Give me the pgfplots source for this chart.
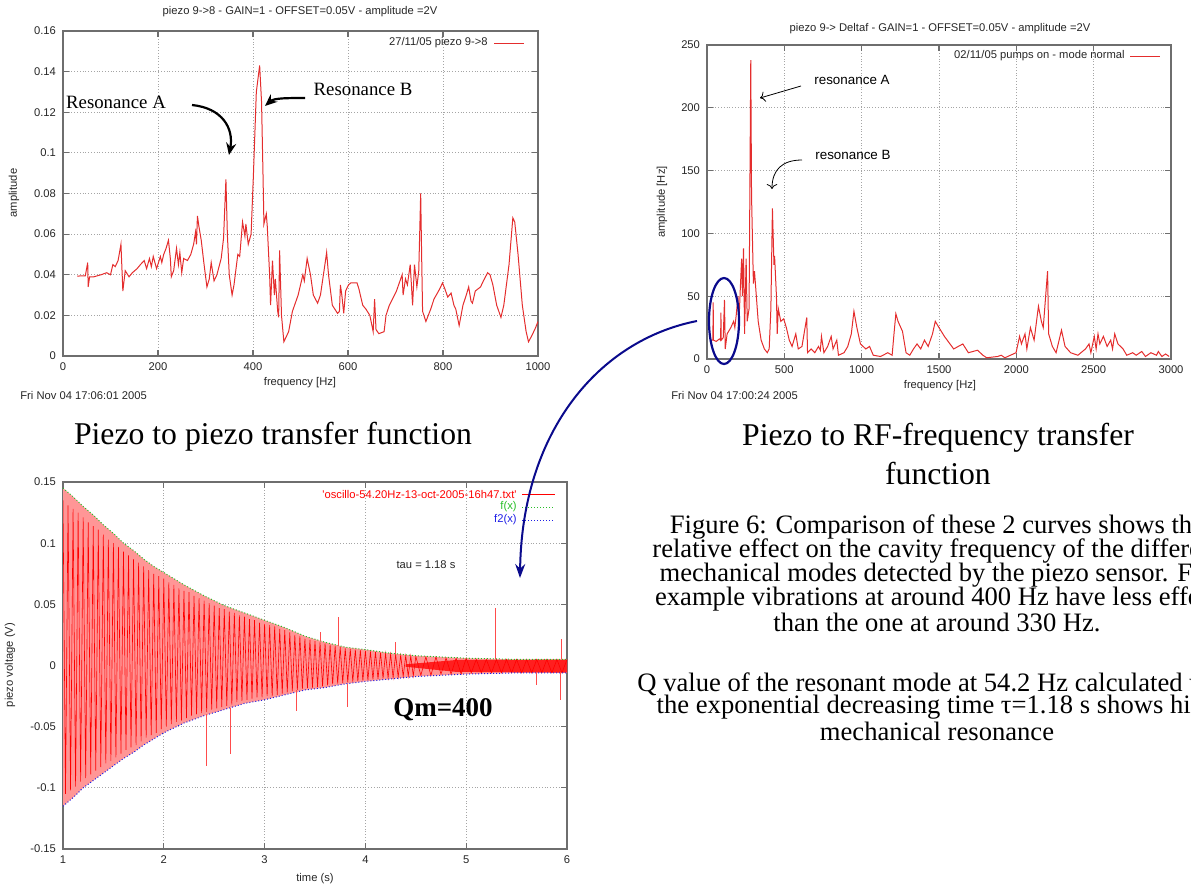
\documentclass[border=0pt]{standalone}
\usepackage{pgfplots}
\pgfplotsset{compat=1.18}
\usepackage{fontspec}
\setmainfont{Liberation Serif}
\newfontfamily\gpfamily{Liberation Sans}
\usetikzlibrary{arrows.meta}
\definecolor{gpred}{RGB}{228,45,45}
\definecolor{gpframe}{RGB}{110,110,110}
\definecolor{gpgrid}{RGB}{165,165,165}
\definecolor{navyarrow}{RGB}{10,10,140}
\definecolor{bandred}{RGB}{255,150,150}
\definecolor{gpgreen}{RGB}{40,190,40}
\definecolor{gpblue}{RGB}{30,30,230}
\newcommand\gpfont{\gpfamily\fontsize{5.6}{6.6}\selectfont}
\newcommand\capfont{\fontsize{15.85}{17.5}\selectfont}
\newcommand\bodyfont{\fontsize{13.3}{12}\selectfont}
\pgfplotsset{gnu/.style={
  scale only axis,
  axis line style={gpframe, line width=0.8pt},
  tick style={gpframe, line width=0.6pt},
  major tick length=3pt,
  grid=major,
  grid style={gpgrid, densely dotted, line width=0.45pt},
  tick label style={font=\gpfont, text=black!85},
  scaled ticks=false,
}}
\begin{document}
\begin{tikzpicture}
\clip (0,0) rectangle (595.5pt,-442.5pt);
% ---------------- plot 1 ----------------
\begin{axis}[gnu, at={(31.5pt,-178pt)}, anchor=south west, width=237.5pt, height=162.5pt,
  xmin=0, xmax=1000, ymin=0, ymax=0.16,
  xtick={0,200,400,600,800,1000}, xticklabels={0,200,400,600,800,1000},
  ytick={0,0.02,0.04,0.06,0.08,0.1,0.12,0.14,0.16},
  yticklabels={0,0.02,0.04,0.06,0.08,0.1,0.12,0.14,0.16}]
\addplot[gpred, line width=0.5pt] coordinates {
(30,.0393)(40,.0395)(47,.0395)(52,.046)(53,.034)(56,.039)(65,.039)(80,.040)(92,.041)(100,.040)
(105,.045)(110,.044)(116,.047)(122,.055)(126,.032)(131,.042)(139,.039)(146,.041)(156,.043)(163,.045)
(171,.047)(176,.043)(182,.048)(186,.044)(190,.049)(197,.043)(205,.049)(208,.046)(212,.050)(217,.053)
(222,.057)(226,.048)(228,.039)(233,.042)(239,.053)(243,.045)(246,.051)(250,.041)(254,.048)(262,.047)
(269,.050)(275,.055)(279,.061)(281,.055)(283,.069)(286,.064)(291,.057)(297,.045)(303,.034)(308,.038)
(312,.046)(318,.037)(324,.040)(333,.048)(338,.058)(343,.087)(346,.060)(350,.040)(356,.030)(360,.035)
(368,.050)(372,.049)(378,.066)(383,.059)(385,.065)(390,.055)(396,.060)(401,.090)(407,.130)(414,.143)
(418,.125)(421,.090)(423,.065)(428,.070)(430,.064)(435,.040)(437,.025)(441,.047)(445,.030)(447,.038)
(452,.022)(454,.019)(456,.052)(460,.020)(465,.007)(475,.012)(483,.022)(495,.030)(505,.040)(508,.037)
(514,.048)(521,.040)(527,.030)(536,.026)(542,.030)(552,.046)(555,.051)(559,.040)(567,.025)(578,.021)
(582,.022)(584,.035)(587,.030)(591,.021)(595,.032)(601,.035)(606,.036)(619,.036)(623,.033)(631,.025)
(638,.023)(646,.020)(653,.012)(656,.028)(659,.013)(665,.011)(676,.012)(680,.020)(687,.025)(702,.032)
(714,.040)(716,.030)(721,.038)(725,.035)(731,.045)(736,.025)(740,.045)(745,.034)(749,.042)(753,.080)
(755,.050)(757,.022)(764,.017)(774,.023)(781,.028)(793,.033)(799,.036)(804,.033)(810,.029)(817,.031)
(823,.025)(827,.023)(834,.015)(842,.025)(849,.030)(854,.034)(859,.027)(862,.026)(868,.032)(879,.034)
(885,.037)(894,.041)(899,.040)(905,.035)(913,.025)(922,.019)(928,.025)(939,.045)(947,.068)(951,.066)
(958,.050)(967,.025)(975,.012)(980,.007)(987,.010)(995,.014)(1000,.017)};
\end{axis}
% ---------------- plot 2 ----------------
\begin{axis}[gnu, at={(353.5pt,-179.5pt)}, anchor=south west, width=232pt, height=157pt,
  xmin=0, xmax=3000, ymin=0, ymax=250,
  xtick={0,500,1000,1500,2000,2500,3000}, xticklabels={0,500,1000,1500,2000,2500,3000},
  ytick={0,50,100,150,200,250}, yticklabels={0,50,100,150,200,250}]
\addplot[gpred, line width=0.5pt] coordinates {
(20,15)(38,15)(40,45)(42,15)(60,14)(80,16)(88,15)(90,37)(92,15)(105,17)(113,47)(118,8)(130,20)
(154,25)(172,30)(180,25)(189,35)(200,50)(207,30)(215,55)(224,80)(229,50)(236,88)(243,20)(253,80)
(260,30)(272,40)(283,238)(288,130)(300,60)(307,70)(319,50)(331,30)(350,15)(371,8)(390,5)(402,8)
(413,40)(423,120)(433,75)(437,82)(449,50)(454,20)(461,40)(477,30)(496,32)(513,25)(532,15)(550,10)
(574,20)(590,8)(614,10)(645,33)(650,5)(673,8)(697,5)(721,10)(733,7)(740,18)(756,5)(780,10)(803,18)
(815,8)(839,15)(850,3)(886,5)(910,10)(933,20)(950,38)(969,25)(992,12)(1027,8)(1051,10)(1075,3)
(1122,2)(1169,5)(1197,3)(1209,20)(1221,36)(1235,30)(1264,22)(1287,5)(1311,3)(1335,8)(1358,12)
(1382,8)(1406,15)(1430,10)(1458,20)(1476,30)(1500,25)(1535,18)(1571,12)(1595,8)(1654,12)(1690,5)
(1749,7)(1784,3)(1808,1)(1879,2)(1902,3)(1926,1)(1998,5)(2021,18)(2033,12)(2056,20)(2068,8)(2091,25)
(2115,15)(2143,42)(2162,30)(2174,25)(2202,70)(2209,20)(2233,10)(2257,5)(2292,23)(2315,10)(2351,5)
(2398,3)(2447,8)(2470,12)(2482,5)(2504,18)(2516,8)(2528,20)(2540,12)(2563,18)(2587,10)(2610,15)
(2622,8)(2636,20)(2657,12)(2690,8)(2714,3)(2752,5)(2775,3)(2811,6)(2835,2)(2870,5)(2906,3)(2918,6)
(2941,2)(2965,4)(2988,2)};
\end{axis}
% ---------------- plot 3 ----------------
\begin{axis}[gnu, at={(31.5pt,-424.5pt)}, anchor=south west, width=252pt, height=183.5pt,
  xmin=1, xmax=6, ymin=-0.15, ymax=0.15,
  xtick={1,2,3,4,5,6}, xticklabels={1,2,3,4,5,6},
  ytick={-0.15,-0.1,-0.05,0,0.05,0.1,0.15},
  yticklabels={-0.15,-0.1,-0.05,0,0.05,0.1,0.15},
  unbounded coords=jump]
\addplot[draw=none, fill=bandred] coordinates {
(1,.145)(1.1,.138)(1.2,.130)(1.3,.123)(1.4,.115)(1.5,.108)(1.6,.100)(1.7,.094)(1.8,.087)(1.9,.081)
(2,.076)(2.2,.066)(2.4,.057)(2.6,.049)(2.8,.043)(3,.037)(3.2,.031)(3.4,.024)(3.6,.019)(3.8,.015)
(4,.013)(4.25,.010)(4.5,.008)(4.75,.007)(5,.006)(5.5,.005)(6,.005)
(6,-.006)(5.5,-.006)(5,-.007)(4.75,-.008)(4.5,-.009)(4.25,-.011)(4,-.013)(3.8,-.015)(3.6,-.018)
(3.4,-.020)(3.2,-.024)(3,-.028)(2.8,-.031)(2.6,-.036)(2.4,-.041)(2.2,-.047)(2,-.055)(1.9,-.060)
(1.8,-.065)(1.7,-.071)(1.6,-.076)(1.5,-.082)(1.4,-.088)(1.3,-.094)(1.2,-.100)(1.1,-.108)(1,-.115)} -- cycle;
\addplot[draw=none, fill=red!88] coordinates {
(4.4,.001)(4.9,.0045)(6,.0048)(6,-.0058)(4.9,-.0052)(4.4,-.001)} -- cycle;
\addplot[red, line width=0.3pt] coordinates {
(1.000,.135)(1.025,-.105)(1.050,.131)(1.075,-.102)(1.100,.128)(1.125,-.099)(1.150,.125)(1.175,-.095)
(1.200,.121)(1.225,-.092)(1.250,.117)(1.275,-.089)(1.300,.114)(1.325,-.086)(1.350,.111)(1.375,-.083)
(1.400,.107)(1.425,-.080)(1.450,.103)(1.475,-.078)(1.500,.100)(1.525,-.075)(1.550,.097)(1.575,-.072)
(1.600,.093)(1.625,-.069)(1.650,.090)(1.675,-.067)(1.700,.087)(1.725,-.065)(1.750,.084)(1.775,-.062)
(1.800,.081)(1.825,-.059)(1.850,.078)(1.875,-.057)(1.900,.075)(1.925,-.055)(1.950,.073)(1.975,-.052)
(2.000,.071)(2.025,-.050)(2.050,.068)(2.075,-.048)(2.100,.066)(2.125,-.046)(2.150,.063)(2.175,-.045)
(2.200,.061)(2.225,-.043)(2.250,.060)(2.275,-.041)(2.300,.057)(2.325,-.040)(2.350,.055)(2.375,-.039)
(2.400,.053)(2.425,-.038)(2.450,.051)(2.475,-.036)(2.500,.049)(2.525,-.035)(2.550,.047)(2.575,-.034)
(2.600,.046)(2.625,-.033)(2.650,.044)(2.675,-.032)(2.700,.043)(2.725,-.030)(2.750,.041)(2.775,-.029)
(2.800,.040)(2.825,-.028)(2.850,.038)(2.875,-.027)(2.900,.037)(2.925,-.026)(2.950,.035)(2.975,-.026)
(3.000,.034)(3.025,-.025)(3.050,.033)(3.075,-.025)(3.100,.032)(3.125,-.024)(3.150,.030)(3.175,-.023)
(3.200,.029)(3.225,-.022)(3.250,.027)(3.275,-.021)(3.300,.025)(3.325,-.020)(3.350,.024)(3.375,-.019)
(3.400,.022)(3.425,-.0185)(3.450,.021)(3.475,-.018)(3.500,.020)(3.525,-.0175)(3.550,.019)(3.575,-.017)
(3.600,.018)(3.625,-.0163)(3.650,.017)(3.675,-.0153)(3.700,.016)(3.725,-.0147)(3.750,.015)(3.775,-.0142)
(3.800,.014)(3.825,-.0137)(3.850,.0135)(3.875,-.0132)(3.900,.013)(3.925,-.0128)(3.950,.0125)(3.975,-.0123)
(4.000,.012)(4.025,-.0119)(4.050,.0115)(4.075,-.0114)(4.100,.011)(4.125,-.011)(4.150,.0105)(4.175,-.0105)
(4.200,.010)(4.225,-.0102)(4.250,.0093)(4.275,-.010)(4.300,.009)(4.325,-.0095)(4.350,.0085)(4.375,-.009)
(4.400,.008)(4.425,-.0087)(4.450,.0078)(4.475,-.0085)(4.500,.0074)(4.55,-.008)(4.60,.007)(4.65,-.008)
(4.70,.007)(4.75,-.007)(4.80,.006)(4.85,-.007)(4.90,.006)(4.95,-.007)(5.00,.006)(5.05,-.006)
(5.10,.005)(5.15,-.006)(5.20,.005)(5.25,-.006)(5.30,.005)(5.35,-.006)(5.40,.005)(5.45,-.006)
(5.50,.005)(5.55,-.006)(5.60,.005)(5.65,-.006)(5.70,.005)(5.75,-.006)(5.80,.005)(5.85,-.006)
(5.90,.005)(5.95,-.006)(6.00,.005)};
\addplot[gpgreen, densely dotted, line width=0.5pt] coordinates {
(1,.145)(1.1,.138)(1.2,.130)(1.3,.123)(1.4,.115)(1.5,.108)(1.6,.100)(1.7,.094)(1.8,.087)(1.9,.081)
(2,.076)(2.2,.066)(2.4,.057)(2.6,.049)(2.8,.043)(3,.037)(3.2,.031)(3.4,.024)(3.6,.019)(3.8,.015)
(4,.013)(4.25,.010)(4.5,.008)(4.75,.007)(5,.006)(5.5,.005)(6,.005)};
\addplot[gpblue, densely dotted, line width=0.5pt] coordinates {
(1,-.115)(1.1,-.108)(1.2,-.100)(1.3,-.094)(1.4,-.088)(1.5,-.082)(1.6,-.076)(1.7,-.071)(1.8,-.065)
(1.9,-.060)(2,-.055)(2.2,-.047)(2.4,-.041)(2.6,-.036)(2.8,-.031)(3,-.028)(3.2,-.024)(3.4,-.020)
(3.6,-.018)(3.8,-.015)(4,-.013)(4.25,-.011)(4.5,-.009)(4.75,-.008)(5,-.007)(5.5,-.006)(6,-.006)};
\addplot[red!70, line width=0.4pt] coordinates {
(2.42,-0.04)(2.42,-0.082)(2.42,nan)(2.66,-0.035)(2.66,-0.072)(2.66,nan)
(3.32,-0.02)(3.32,-0.037)(3.32,nan)(3.55,0.02)(3.55,0.027)(3.55,nan)
(3.73,0.016)(3.73,0.040)(3.73,nan)(3.82,-0.015)(3.82,-0.034)(3.82,nan)
(4.30,0.01)(4.30,0.019)(4.30,nan)(5.29,0.005)(5.29,0.047)(5.29,nan)
(5.70,-0.005)(5.70,-0.016)(5.70,nan)(5.93,-0.005)(5.93,-0.028)(5.93,nan)
(5.94,0.005)(5.94,0.022)};
\end{axis}
% ---------------- texts, legends and annotations (pixel units) ----------------
\begin{scope}[x=0.5pt, y=-0.5pt]
\begin{scope}[font=\gpfont, text=black!85]
\node at (300,12) {piezo 9->8 - GAIN=1 - OFFSET=0.05V - amplitude =2V};
\node[rotate=90] at (14,193) {amplitude};
\node at (300,383) {frequency [Hz]};
\node[anchor=west, inner sep=0pt] at (20,395) {Fri Nov 04 17:06:01 2005};
\node at (940,29) {piezo 9-> Deltaf - GAIN=1 - OFFSET=0.05V - amplitude =2V};
\node[rotate=90] at (662,202) {amplitude [Hz]};
\node at (940,386) {frequency [Hz]};
\node[anchor=west, inner sep=0pt] at (671,395) {Fri Nov 04 17:00:24 2005};
\node[rotate=90] at (10,665) {piezo voltage (V)};
\node at (315,879) {time (s)};
\node at (426,565) {tau = 1.18 s};
% legends
\node[anchor=east, inner sep=0pt] at (488,43) {27/11/05 piezo 9->8};
\draw[gpred, line width=0.5pt] (494,43) -- (524,43);
\node[anchor=east, inner sep=0pt] at (1125,56) {02/11/05 pumps on - mode normal};
\draw[gpred, line width=0.5pt] (1130,56) -- (1160,56);
\node[anchor=east, inner sep=0pt, text=red] at (517,494) {'oscillo-54.20Hz-13-oct-2005-16h47.txt'};
\draw[red, line width=0.5pt] (522,494) -- (555,494);
\node[anchor=east, inner sep=0pt, text=gpgreen] at (517,507) {f(x)};
\draw[gpgreen, densely dotted, line width=0.5pt] (522,507) -- (555,507);
\node[anchor=east, inner sep=0pt, text=gpblue] at (517,520) {f2(x)};
\draw[gpblue, densely dotted, line width=0.5pt] (522,520) -- (555,520);
\end{scope}
% plot 1 annotations
\node[font=\fontsize{9.4}{10}\selectfont] at (116,102) {Resonance A};
\node[font=\fontsize{9.4}{10}\selectfont] at (363,89) {Resonance B};
\draw[line width=1.1pt, -{Stealth[length=6pt,width=5pt]}] (192,105) .. controls (222,108) and (234,128) .. (229,155);
\draw[line width=1.1pt, -{Stealth[length=6pt,width=5pt]}] (305,98) .. controls (288,98) and (274,98) .. (265,106);
% plot 2 annotations
\node[font=\gpfamily\fontsize{6.7}{8}\selectfont] at (852,80) {resonance A};
\node[font=\gpfamily\fontsize{6.7}{8}\selectfont] at (853,155) {resonance B};
\draw[line width=0.4pt, -{To[length=2.5pt]}] (801,86) -- (760,98);
\draw[line width=0.4pt, -{To[length=2.5pt]}] (802,160) .. controls (782,160) and (772,170) .. (772,189);
% blue ellipse and arrow
\draw[navyarrow, line width=1.1pt] (724,321) ellipse [x radius=7.5pt, y radius=21.5pt];
\draw[navyarrow, line width=1pt, -{Stealth[length=7pt,width=5pt]}] (697,321) .. controls (600,340) and (522,430) .. (520,578);
% Qm
\node[font=\fontsize{13.5}{15}\selectfont\bfseries] at (443,710) {Qm=400};
% captions
\node[font=\capfont] at (273,437) {Piezo to piezo transfer function};
\node[font=\capfont] at (938,438) {Piezo to RF-frequency transfer};
\node[font=\capfont] at (938,473) {function};
% text block
\begin{scope}[font=\bodyfont, inner sep=0pt]
\node at (937,527) {Figure 6: Comparison of these 2 curves shows the};
\node at (937,551) {relative effect on the cavity frequency of the different};
\node at (937,575) {mechanical modes detected by the piezo sensor. For};
\node at (937,599) {example vibrations at around 400 Hz have less effect};
\node at (937,622) {than the one at around 330 Hz.};
\node at (937,684) {Q value of the resonant mode at 54.2 Hz calculated with};
\node at (937,707) {the exponential decreasing time τ=1.18 s shows high};
\node at (937,731) {mechanical resonance};
\end{scope}
\end{scope}
\end{tikzpicture}
\end{document}
